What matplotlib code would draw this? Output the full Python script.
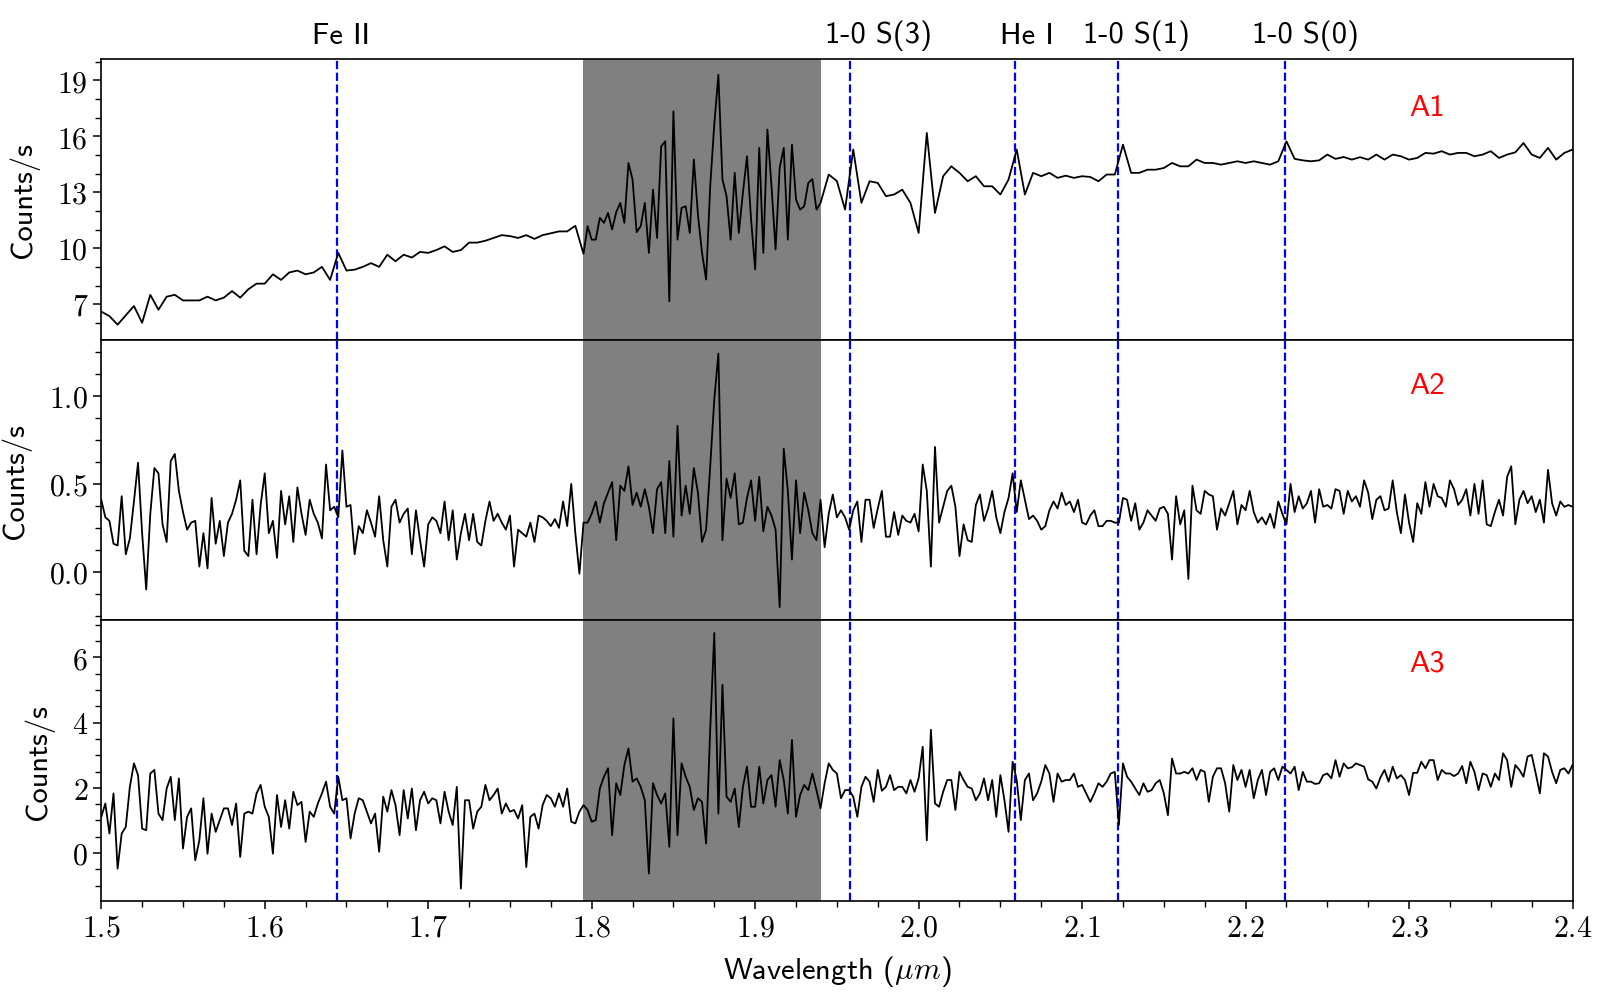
import numpy as np
import matplotlib
matplotlib.use("Agg")
import matplotlib.pyplot as plt
from matplotlib.ticker import MultipleLocator
import matplotlib.transforms as mtransforms

plt.rcParams['font.family'] = 'cmss10'
plt.rcParams['mathtext.fontset'] = 'cm'
plt.rcParams['axes.unicode_minus'] = False
plt.rcParams['axes.formatter.use_mathtext'] = True

# 波长网格 (um)
wl1 = np.concatenate([np.linspace(1.5, 1.795, 60),
                      np.linspace(1.7975, 1.94, 58),
                      np.linspace(1.945, 2.4, 92)])
wl23 = np.linspace(1.5, 2.4, 361)

# A1 光谱 (Counts/s)
a1_blue = [6.6, 6.36, 5.9, 6.4, 6.9, 6.0, 7.5, 6.7, 7.4, 7.5,
           7.2, 7.2, 7.2, 7.4, 7.2, 7.35, 7.7, 7.35, 7.8, 8.1,
           8.1, 8.6, 8.3, 8.7, 8.8, 8.6, 8.7, 9.0, 8.3, 9.75,
           8.8, 8.85, 9.0, 9.2, 9.0, 9.65, 9.3, 9.65, 9.5, 9.8,
           9.75, 9.9, 10.1, 9.8, 9.9, 10.3, 10.3, 10.4, 10.55, 10.7,
           10.65, 10.55, 10.7, 10.5, 10.7, 10.8, 10.9, 10.9, 11.2, 9.7]
a1_gap = [11.18, 10.46, 10.46, 11.63, 11.36, 11.89, 11.0, 11.93, 12.43, 11.36,
          14.57, 13.68, 10.86, 11.18, 12.43, 9.75, 13.14, 10.55, 15.46, 15.73,
          7.16, 17.34, 10.46, 12.16, 12.25, 10.82, 14.75, 11.8, 9.75, 8.32,
          13.32, 16.63, 19.3, 13.68, 12.79, 10.46, 14.04, 10.82, 12.96, 14.93,
          11.54, 8.86, 15.38, 9.75, 16.36, 13.32, 9.93, 14.3, 15.38, 10.46,
          15.55, 12.61, 12.07, 12.25, 13.5, 13.71, 12.07, 12.43]
a1_red = [13.95, 13.6, 12.07, 15.29, 12.43, 13.59, 13.5, 12.79, 12.88, 13.14,
          12.43, 10.82, 16.18, 11.89, 13.86, 14.39, 14.04, 13.59, 13.86, 13.32,
          13.32, 12.88, 13.68, 15.29, 12.88, 14.04, 13.86, 14.04, 13.77, 13.89,
          13.77, 13.86, 13.82, 13.59, 13.95, 13.95, 15.55, 14.04, 14.04, 14.21,
          14.21, 14.3, 14.57, 14.39, 14.39, 14.75, 14.57, 14.57, 14.48, 14.57,
          14.66, 14.57, 14.66, 14.57, 14.48, 14.66, 15.73, 14.79, 14.71, 14.66,
          14.71, 15.02, 14.79, 14.89, 14.75, 14.88, 14.75, 15.02, 14.75, 15.02,
          14.93, 14.75, 14.84, 15.11, 15.07, 15.2, 15.02, 15.11, 15.11, 14.93,
          15.02, 15.2, 14.84, 15.02, 15.14, 15.64, 15.02, 14.84, 15.38, 14.75,
          15.11, 15.29]
a1 = a1_blue + a1_gap + a1_red

# A2 光谱
a2 = [0.41, 0.31, 0.29, 0.16, 0.15, 0.43, 0.10, 0.19, 0.40, 0.62,
      0.22, -0.10, 0.33, 0.59, 0.56, 0.27, 0.17, 0.63, 0.67, 0.46,
      0.34, 0.24, 0.28, 0.29, 0.03, 0.22, 0.02, 0.42, 0.16, 0.29,
      0.09, 0.28, 0.33, 0.41, 0.52, 0.12, 0.09, 0.41, 0.10, 0.38,
      0.56, 0.22, 0.29, 0.08, 0.46, 0.27, 0.43, 0.17, 0.48, 0.33,
      0.21, 0.41, 0.33, 0.28, 0.19, 0.61, 0.35, 0.37, 0.31, 0.69,
      0.37, 0.38, 0.10, 0.26, 0.22, 0.35, 0.28, 0.20, 0.43, 0.18,
      0.03, 0.37, 0.41, 0.28, 0.33, 0.36, 0.10, 0.35, 0.18, 0.03,
      0.27, 0.31, 0.29, 0.22, 0.40, 0.18, 0.35, 0.07, 0.22, 0.33,
      0.18, 0.33,
      0.17, 0.15, 0.29, 0.40, 0.29, 0.33, 0.28, 0.24, 0.32, 0.03,
      0.24, 0.22, 0.20, 0.28, 0.17, 0.32, 0.31, 0.29, 0.26, 0.30,
      0.25, 0.40, 0.26, 0.50, 0.22, -0.01, 0.28, 0.28, 0.33, 0.40,
      0.28, 0.39, 0.45, 0.51, 0.18, 0.49, 0.46, 0.60, 0.38, 0.45,
      0.37, 0.47, 0.37, 0.22, 0.47, 0.51, 0.22, 0.63, 0.20, 0.83,
      0.32, 0.49, 0.33, 0.59, 0.45, 0.17, 0.24, 0.60, 0.98, 1.24,
      0.18, 0.53, 0.42, 0.56, 0.27, 0.28, 0.42, 0.52, 0.29, 0.54,
      0.23, 0.37, 0.32, 0.24, -0.20, 0.70, 0.46, 0.07, 0.52, 0.22,
      0.45, 0.35, 0.22, 0.18, 0.41, 0.14, 0.33, 0.44, 0.31, 0.35,
      0.31, 0.24,
      0.35, 0.40, 0.17, 0.41, 0.41, 0.25, 0.36, 0.46, 0.20, 0.20,
      0.34, 0.21, 0.32, 0.29, 0.28, 0.33, 0.23, 0.61, 0.46, 0.03,
      0.71, 0.28, 0.37, 0.46, 0.49, 0.37, 0.09, 0.27, 0.18, 0.17,
      0.38, 0.44, 0.29, 0.36, 0.46, 0.31, 0.22, 0.34, 0.42, 0.56,
      0.34, 0.52, 0.41, 0.30, 0.32, 0.29, 0.24, 0.26, 0.35, 0.40,
      0.36, 0.45, 0.38, 0.40, 0.34, 0.41, 0.28, 0.27, 0.32, 0.35,
      0.26, 0.26, 0.29, 0.29, 0.28, 0.28, 0.42, 0.41, 0.29, 0.39,
      0.24, 0.28, 0.35, 0.32, 0.29, 0.36, 0.37, 0.33, 0.07, 0.43,
      0.27, 0.35, -0.04, 0.49, 0.35, 0.33, 0.46, 0.44, 0.43, 0.24,
      0.36, 0.32,
      0.39, 0.46, 0.27, 0.38, 0.35, 0.46, 0.34, 0.28, 0.31, 0.27,
      0.33, 0.25, 0.40, 0.33, 0.27, 0.50, 0.34, 0.43, 0.36, 0.39,
      0.46, 0.28, 0.47, 0.37, 0.38, 0.36, 0.47, 0.46, 0.33, 0.46,
      0.40, 0.43, 0.37, 0.52, 0.45, 0.30, 0.41, 0.43, 0.35, 0.36,
      0.52, 0.34, 0.22, 0.44, 0.28, 0.17, 0.39, 0.33, 0.51, 0.37,
      0.50, 0.43, 0.42, 0.37, 0.52, 0.47, 0.38, 0.41, 0.47, 0.32,
      0.50, 0.33, 0.52, 0.27, 0.26, 0.34, 0.41, 0.32, 0.54, 0.60,
      0.27, 0.41, 0.46, 0.39, 0.43, 0.34, 0.41, 0.28, 0.58, 0.39,
      0.32, 0.40, 0.37, 0.38, 0.37]

# A3 光谱
a3 = [1.11, 1.52, 0.60, 1.83, -0.48, 0.60, 0.80, 2.03, 2.75, 2.39,
      0.75, 0.70, 2.44, 2.55, 1.21, 1.01, 1.98, 2.34, 1.01, 2.29,
      0.14, 1.11, 1.37, -0.22, 0.39, 1.68, -0.02, 1.21, 0.65, 1.01,
      1.37, 1.37, 0.86, 1.52, -0.12, 1.21, 1.27, 1.21, 1.83, 2.09,
      1.42, 1.11, -0.02, 1.78, 0.80, 1.62, 0.75, 1.88, 1.47, 1.57,
      0.34, 1.27, 1.11, 1.52, 1.83, 2.19, 1.42, 1.21, 2.34, 1.62,
      1.68, 0.45, 1.21, 1.68, 1.62, 1.27, 0.91, 1.21, 0.04, 1.73,
      1.27, 1.93, 1.47, 0.55, 1.93, 1.06, 1.98, 0.70, 1.62, 1.88,
      1.52, 1.68, 1.62, 0.91, 1.88, 1.27, 0.86, 2.03, -1.09, 1.62,
      1.62, 0.75,
      1.27, 1.42, 2.09, 1.62, 1.78, 1.98, 1.21, 1.52, 1.27, 1.32,
      1.06, 1.47, -0.43, 1.11, 1.21, 0.75, 1.47, 1.78, 1.68, 1.42,
      1.83, 1.42, 1.98, 0.96, 0.91, 1.27, 1.47, 1.32, 0.96, 1.01,
      1.98, 2.34, 2.60, 0.55, 2.14, 1.78, 2.70, 3.21, 2.19, 2.29,
      2.03, 1.62, -0.63, 2.14, 1.78, 1.52, 1.83, 0.19, 4.13, 0.55,
      2.75, 2.34, 2.03, 1.32, 1.68, 1.57, 0.29, 3.78, 6.75, 1.21,
      5.16, 1.73, 1.57, 1.98, 0.80, 2.03, 2.65, 1.42, 1.42, 2.65,
      1.52, 2.24, 2.39, 1.42, 2.85, 2.24, 1.21, 3.47, 1.11, 1.78,
      2.09, 1.93, 2.44, 1.93, 1.37, 2.14, 2.75, 2.55, 2.44, 1.68,
      1.93, 1.93,
      1.73, 1.11, 2.03, 2.34, 2.19, 1.57, 2.55, 1.91, 2.03, 2.39,
      1.93, 2.03, 2.03, 1.83, 2.24, 1.88, 2.29, 3.26, 0.39, 3.78,
      1.52, 1.42, 1.88, 2.24, 2.24, 1.32, 2.49, 2.24, 2.03, 1.98,
      1.62, 1.83, 2.29, 1.62, 2.24, 1.11, 2.39, 1.62, 0.65, 2.80,
      2.24, 1.01, 2.24, 2.44, 1.62, 1.83, 2.19, 2.70, 2.44, 1.57,
      2.44, 2.19, 2.24, 2.24, 2.44, 2.03, 2.09, 1.83, 1.57, 1.83,
      2.14, 2.03, 2.19, 2.44, 2.49, 0.86, 2.75, 2.34, 2.19, 1.98,
      1.78, 2.14, 1.88, 1.93, 2.14, 2.24, 1.83, 1.16, 2.90, 2.44,
      2.44, 2.49, 2.44, 2.60, 2.24, 2.55, 2.49, 1.57, 2.34, 2.60,
      2.60, 2.14,
      1.27, 2.70, 2.24, 2.55, 2.03, 2.55, 1.68, 2.24, 2.55, 1.78,
      2.49, 2.60, 2.24, 2.65, 2.55, 2.44, 2.65, 1.93, 2.49, 2.19,
      2.19, 2.12, 2.14, 2.39, 2.44, 2.29, 2.85, 2.34, 2.75, 2.60,
      2.63, 2.75, 2.70, 2.65, 2.26, 2.19, 1.98, 2.32, 2.55, 2.19,
      2.65, 2.29, 2.39, 2.24, 1.78, 2.46, 2.46, 2.80, 2.60, 2.85,
      2.85, 2.24, 2.55, 2.44, 2.44, 2.36, 2.44, 2.67, 2.14, 2.80,
      2.49, 1.93, 2.44, 2.39, 2.03, 2.44, 2.24, 3.06, 2.85, 2.03,
      2.70, 2.55, 2.34, 2.96, 3.01, 2.44, 1.83, 3.06, 2.96, 2.49,
      2.14, 2.55, 2.60, 2.44, 2.70]

# 谱线位置与名称
line_wl = [1.644, 1.958, 2.059, 2.122, 2.224]
line_names = ['Fe II', '1-0 S(3)', 'He I', '1-0 S(1)', '1-0 S(0)']
label_wl = [1.6466, 1.9753, 2.0664, 2.1334, 2.2364]

# 大气吸收带
band = (1.7945, 1.9405)

panel_names = ['A1', 'A2', 'A3']
panel_ylims = [(5.1, 20.15), (-0.275, 1.32), (-1.47, 7.14)]
panel_yticks = [[7, 10, 13, 16, 19], [0.0, 0.5, 1.0], [0, 2, 4, 6]]
panel_minor = [1.0, 0.125, 0.5]
panel_label_y = [0.827, 0.835, 0.849]

fig, axes = plt.subplots(3, 1, sharex=True, figsize=(16.2, 9.95), dpi=100)
fig.subplots_adjust(left=0.0625, right=0.9707, top=0.9398, bottom=0.0935, hspace=0)

series = [(wl1, a1), (wl23, a2), (wl23, a3)]
for i, ax in enumerate(axes):
    x, y = series[i]
    ax.axvspan(band[0], band[1], color='gray', zorder=0, lw=0)
    ax.plot(x, y, color='k', lw=1.3, zorder=3)
    for lw_ in line_wl:
        ax.axvline(lw_, color='b', ls='--', lw=1.6, zorder=2)
    ax.set_ylim(panel_ylims[i])
    ax.set_yticks(panel_yticks[i])
    ax.yaxis.set_minor_locator(MultipleLocator(panel_minor[i]))
    ax.set_ylabel('Counts/s', fontsize=22, labelpad=13)
    ax.text(0.901, panel_label_y[i], panel_names[i], color='red', fontsize=22,
            ha='center', va='center', transform=ax.transAxes)
    ax.tick_params(axis='both', which='major', labelsize=21.5, length=6, width=1.1)
    ax.tick_params(axis='both', which='minor', length=4, width=1.0)
    for lab in ax.get_yticklabels():
        lab.set_fontfamily('cmr10')
    for sp in ax.spines.values():
        sp.set_linewidth(1.2)
    if i < 2:
        ax.tick_params(axis='x', which='both', bottom=False)

ax3 = axes[2]
ax3.set_xlim(1.5, 2.4)
ax3.set_xticks(np.arange(1.5, 2.41, 0.1))
ax3.xaxis.set_minor_locator(MultipleLocator(0.025))
for lab in ax3.get_xticklabels():
    lab.set_fontfamily('cmr10')
ax3.set_xlabel(r'Wavelength ($\mu m$)', fontsize=22, labelpad=8)

trans = mtransforms.blended_transform_factory(axes[0].transData, axes[0].transAxes)
for xw, name in zip(label_wl, line_names):
    axes[0].text(xw, 1.085, name, transform=trans, ha='center', va='center', fontsize=22)

fig.savefig('out.png', dpi=100)
